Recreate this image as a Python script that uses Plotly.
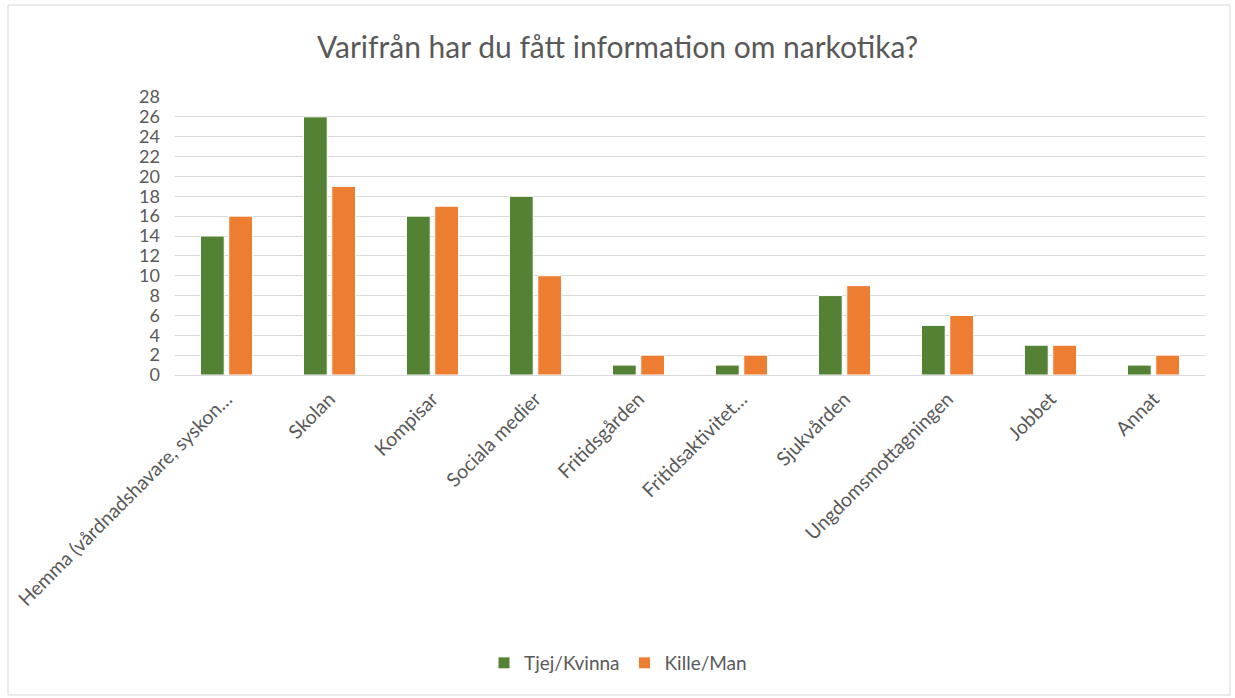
import plotly.graph_objects as go

categories = ["Hemma (vårdnadshavare, syskon…", "Skolan", "Kompisar", "Sociala medier",
              "Fritidsgården", "Fritidsaktivitet…", "Sjukvården", "Ungdomsmottagningen",
              "Jobbet", "Annat"]
tjej = [14, 26, 16, 18, 1, 1, 8, 5, 3, 1]
kille = [16, 19, 17, 10, 2, 2, 9, 6, 3, 2]
yticks = list(range(0, 29, 2))

W, H = 1235, 698
L, R, T, B = 175, 30, 97, 323
pw, ph = W - L - R, H - T - B

fig = go.Figure()
fig.add_trace(go.Bar(name="Tjej/Kvinna", x=categories, y=tjej, marker_color="#548235",
                     marker_line_color="white", marker_line_width=1))
fig.add_trace(go.Bar(name="Kille/Man", x=categories, y=kille, marker_color="#ED7D31",
                     marker_line_color="white", marker_line_width=1))

fig.update_layout(
    width=W, height=H, autosize=False,
    margin=dict(l=L, r=R, t=T, b=B),
    paper_bgcolor="white", plot_bgcolor="white",
    font=dict(family="Lato, Open Sans, sans-serif", color="#595959", size=18),
    title=dict(text="Varifrån har du fått information om narkotika?", x=0.5, xref="container",
               y=1 - 47 / H, yref="container", yanchor="middle", xanchor="center",
               font=dict(size=30, color="#595959", family="Lato, sans-serif")),
    barmode="group", bargap=0.45, bargroupgap=0.16,
    legend=dict(orientation="h", x=(618 - L) / pw, xanchor="center",
                y=(T + ph - 663) / ph, yanchor="middle",
                font=dict(size=19, color="#595959"), itemwidth=30),
    yaxis=dict(range=[0, 28], tickvals=yticks, showgrid=True, gridcolor="#D9D9D9",
               gridwidth=1, zeroline=False, showline=False, ticks="",
               ticklabelstandoff=14,
               tickfont=dict(size=18, color="#595959"), fixedrange=True),
    xaxis=dict(tickangle=-45, showline=True, linecolor="#D9D9D9", ticks="",
               ticklabelstandoff=4,
               tickfont=dict(size=19.5, color="#595959")),
    shapes=[dict(type="rect", xref="paper", yref="paper",
                 x0=(8 - L) / pw, x1=(1230 - L) / pw,
                 y0=(T + ph - 695) / ph, y1=(T + ph - 5) / ph,
                 line=dict(color="#D9D9D9", width=1), fillcolor="rgba(0,0,0,0)", layer="below")],
)

fig.write_html("out.html", config={"displayModeBar": False},
               post_script="document.body.style.margin='0';")
